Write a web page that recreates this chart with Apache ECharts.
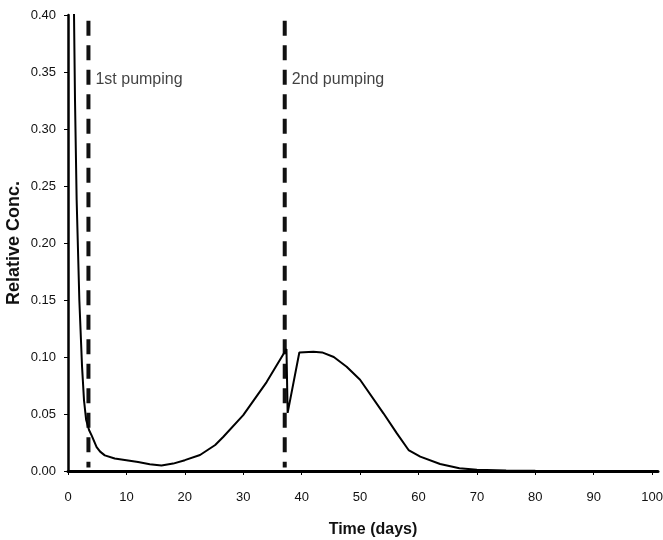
<!DOCTYPE html>
<html>
<head>
<meta charset="utf-8">
<script src="https://cdn.jsdelivr.net/npm/echarts@6/dist/echarts.min.js"></script>
<style>
  html, body { margin: 0; padding: 0; background: #fff; }
  #main { width: 663px; height: 540px; }
</style>
</head>
<body>
<div id="main"></div>
<script>
// relative concentration vs time
var days = [0, 0.5, 1.03, 1.2, 1.48, 1.94, 2.4, 2.74, 3.1, 3.6, 4.06, 4.9, 5.5, 6.3, 8, 10, 12, 14, 16, 18, 20, 22.6, 25.2, 26.6, 30, 34, 37.4, 37.6, 39.6, 42, 43.5, 45.5, 47.7, 50, 54, 56.3, 58.3, 60.3, 63.7, 67, 70, 75, 80, 90, 100];
var conc = [1.0, 0.68, 0.40, 0.325, 0.238, 0.15, 0.092, 0.062, 0.045, 0.036, 0.031, 0.021, 0.017, 0.0137, 0.011, 0.0095, 0.0078, 0.006, 0.0048, 0.0065, 0.0095, 0.014, 0.0228, 0.030, 0.049, 0.078, 0.107, 0.051, 0.104, 0.1045, 0.104, 0.100, 0.0915, 0.080, 0.0506, 0.033, 0.0184, 0.0126, 0.0061, 0.0024, 0.001, 0.0004, 0.0002, 0.0001, 0];

var pumpDays = [3.5, 37.1];
var pumpNames = ['1st pumping', '2nd pumping'];
var pumpTop = 0.395, pumpBottom = 0.003, labelLevel = 0.343;

var xTicks = [0, 10, 20, 30, 40, 50, 60, 70, 80, 90, 100];

var font = 'Liberation Sans';

var curve = days.map(function (d, i) { return [d, conc[i]]; });

var series = [{
  name: 'conc',
  type: 'line',
  data: curve,
  showSymbol: false,
  smooth: false,
  lineStyle: { color: '#000', width: 2 },
  z: 3
}];

pumpDays.forEach(function (d, i) {
  series.push({
    type: 'line',
    data: [[d, pumpTop], [d, pumpBottom]],
    showSymbol: false,
    lineStyle: { color: '#111', width: 4, type: [15, 9.5] },
    z: 2
  });
  series.push({
    type: 'scatter',
    data: [[d, labelLevel]],
    symbolSize: 0,
    label: {
      show: true,
      position: 'right',
      distance: 7,
      formatter: pumpNames[i],
      color: '#111',
      fontSize: 16,
      fontFamily: font
    },
    z: 4
  });
});

var myChart = echarts.init(document.getElementById('main'));
var option = {
  animation: false,
  backgroundColor: '#fff',
  grid: { left: 68, right: 5, top: 15, bottom: 69, outerBoundsMode: 'none' },
  xAxis: {
    type: 'value',
    min: 0,
    max: 101,
    interval: 10,
    name: 'Time (days)',
    nameLocation: 'middle',
    nameGap: 51,
    nameTextStyle: { fontSize: 16, fontWeight: 'bold', color: '#111', fontFamily: font, padding: [0, 0, 0, 20] },
    axisLine: { lineStyle: { color: '#000', width: 3 } },
    axisTick: { show: true, length: 4, customValues: xTicks, lineStyle: { color: '#000', width: 1 } },
    axisLabel: { customValues: xTicks, margin: 20, fontSize: 13, color: '#111', fontFamily: font },
    splitLine: { show: false }
  },
  yAxis: {
    type: 'value',
    min: 0,
    max: 0.4,
    interval: 0.05,
    name: 'Relative Conc.',
    nameLocation: 'middle',
    nameGap: 45,
    nameMoveOverlap: false,
    nameTextStyle: { fontSize: 18, fontWeight: 'bold', color: '#111', fontFamily: font },
    axisLine: { show: true, lineStyle: { color: '#000', width: 2.5 } },
    axisTick: { show: true, length: 4, lineStyle: { color: '#000', width: 1 } },
    axisLabel: {
      margin: 12, fontSize: 13, color: '#111', fontFamily: font,
      formatter: function (v) { return v.toFixed(2); }
    },
    splitLine: { show: false }
  },
  series: series
};
myChart.setOption(option);
</script>
</body>
</html>
